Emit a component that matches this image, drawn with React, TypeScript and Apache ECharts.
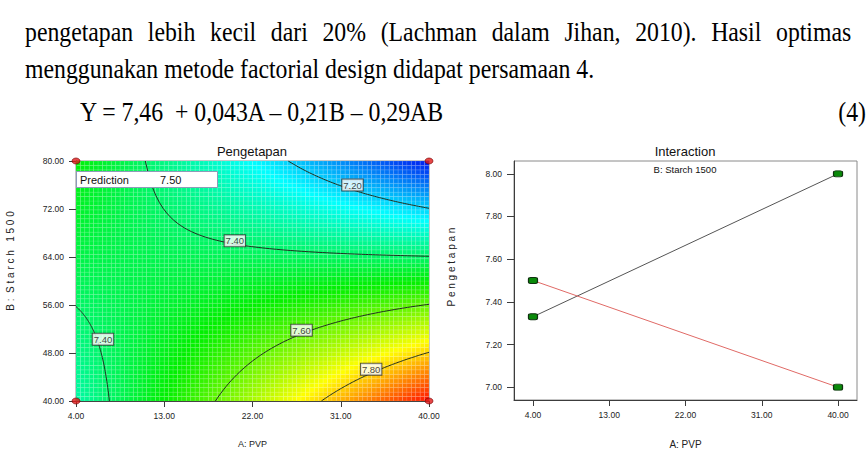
import React, { useEffect, useRef } from 'react';
import * as echarts from 'echarts';

// ---------- document text ----------
const paraLine1Words = [
  'pengetapan', 'lebih', 'kecil', 'dari', '20%', '(Lachman', 'dalam', 'Jihan,', '2010).', 'Hasil', 'optimas',
];
const paraLine2 = 'menggunakan metode factorial design didapat persamaan 4.';
const equationText = 'Y = 7,46  + 0,043A – 0,21B – 0,29AB';
const equationNo = '(4)';

// ---------- chart data ----------
const pvpTicks = [4, 13, 22, 31, 40];
const starchTicks = [40, 48, 56, 64, 72, 80];
const responseTicks = [7.0, 7.2, 7.4, 7.6, 7.8, 8.0];
const pvpRange = [4, 40];
const starchRange = [40, 80];
// coded-unit model from the equation: Y = 7.46 + 0.043A - 0.21B - 0.29AB
const modelCoef = [7.46, 0.043, -0.21, -0.29];
const responseRange = [7.003, 8.003];
const contourLevels = [7.2, 7.4, 7.6, 7.8];
const contourLabelNames = ['7.20', '7.40', '7.40', '7.60', '7.80'];
const contourLabelPos = [[32.2, 76.0], [20.2, 66.7], [6.75, 50.3], [27.0, 51.8], [34.1, 45.3]];
const designPoints = [[4, 40], [4, 80], [40, 40], [40, 80]];
const predictionText = ['Prediction', '7.50'];
// interaction plot (B: Starch 1500)
const interactionBLow = [[4, 7.33], [40, 8.0]];
const interactionBHigh = [[4, 7.5], [40, 7.0]];

const SANS = '"Liberation Sans", Arial, sans-serif';
const SERIF = '"Liberation Serif", "Times New Roman", serif';
const DOC_FONT_SIZE = 27;
const DOC_SCALE_X = 0.88;

function toCodedA(A: number) { return (A - (pvpRange[0] + pvpRange[1]) / 2) / ((pvpRange[1] - pvpRange[0]) / 2); }
function toCodedB(B: number) { return (B - (starchRange[0] + starchRange[1]) / 2) / ((starchRange[1] - starchRange[0]) / 2); }
function predict(A: number, B: number) {
  const a = toCodedA(A), b = toCodedB(B);
  const [c0, c1, c2, c3] = modelCoef;
  return c0 + c1 * a + c2 * b + c3 * a * b;
}

function buildSurface(nA: number, nB: number) {
  const dA = (pvpRange[1] - pvpRange[0]) / nA;
  const dB = (starchRange[1] - starchRange[0]) / nB;
  const data: number[][] = [];
  for (let i = 0; i < nA; i++) {
    for (let j = 0; j < nB; j++) {
      const A = pvpRange[0] + dA * (i + 0.5);
      const B = starchRange[0] + dB * (j + 0.5);
      data.push([A, B, predict(A, B)]);
    }
  }
  return { data, dA, dB };
}

function contourBranches(L: number) {
  const [c0, c1, c2, c3] = modelCoef;
  const bOf = (a: number) => (L - c0 - c1 * a) / (c2 + c3 * a);
  const aOf = (b: number) => (L - c0 - c2 * b) / (c1 + c3 * b);
  const sing = -c2 / c3;
  const cands = [-1, 1, aOf(1), aOf(-1), sing]
    .filter((v) => isFinite(v) && v >= -1 && v <= 1)
    .sort((x, y) => x - y);
  const branches: number[][][] = [];
  for (let i = 0; i < cands.length - 1; i++) {
    const lo = cands[i], hi = cands[i + 1];
    if (hi - lo < 1e-9) continue;
    const bm = bOf((lo + hi) / 2);
    if (!(bm >= -1 && bm <= 1)) continue;
    const pts: number[][] = [];
    const N = 80;
    for (let k = 0; k <= N; k++) {
      const a = lo + ((hi - lo) * k) / N;
      let b = bOf(a);
      b = Math.max(-1, Math.min(1, b));
      pts.push([22 + 18 * a, 60 + 20 * b]);
    }
    branches.push(pts);
  }
  return branches;
}

function measureWords(words: string[]) {
  const ctx = document.createElement('canvas').getContext('2d');
  if (!ctx) return words.map((w) => w.length * 11);
  ctx.font = `${DOC_FONT_SIZE}px "Liberation Serif"`;
  return words.map((w) => ctx.measureText(w).width * DOC_SCALE_X);
}

function buildOption() {
  const { data: surface, dA, dB } = buildSurface(80, 54);
  const contourSeries: any[] = [];
  contourLevels.forEach((L) => {
    contourBranches(L).forEach((pts) => {
      contourSeries.push({
        type: 'line', xAxisIndex: 0, yAxisIndex: 0, data: pts, showSymbol: false, silent: true,
        lineStyle: { color: '#1f2f1f', width: 1 }, z: 5,
      });
    });
  });

  const tickLabel = { fontSize: 8.5, fontFamily: SANS, color: '#222' };
  const docStyle = { fontSize: DOC_FONT_SIZE, fontFamily: SERIF, fill: '#000', verticalAlign: 'middle' };
  const graphics: any[] = [];

  // justified first line: words spread evenly from the left margin to the last word's start
  const lineStart = 25, lastWordStart = 776;
  const widths = measureWords(paraLine1Words);
  const inner = widths.slice(0, -1).reduce((s, w) => s + w, 0);
  const gap = (lastWordStart - lineStart - inner) / (paraLine1Words.length - 1);
  let cx = lineStart;
  paraLine1Words.forEach((w, i) => {
    graphics.push({ type: 'text', x: cx, y: 32, scaleX: DOC_SCALE_X, z: 100, style: { text: w, ...docStyle } });
    cx += widths[i] + gap;
  });
  graphics.push({ type: 'text', x: 25, y: 69, scaleX: DOC_SCALE_X, z: 100, style: { text: paraLine2, ...docStyle } });
  graphics.push({ type: 'text', x: 80, y: 112, scaleX: DOC_SCALE_X, z: 100, style: { text: equationText, ...docStyle } });
  graphics.push({ type: 'text', x: 866, y: 112, scaleX: DOC_SCALE_X, z: 100,
    style: { text: equationNo, ...docStyle, align: 'right' } });

  // chart titles
  graphics.push({ type: 'text', x: 252, y: 151, z: 100,
    style: { text: 'Pengetapan', fontSize: 13, fontFamily: SANS, fill: '#111', align: 'center', verticalAlign: 'middle' } });
  graphics.push({ type: 'text', x: 685, y: 151, z: 100,
    style: { text: 'Interaction', fontSize: 13, fontFamily: SANS, fill: '#111', align: 'center', verticalAlign: 'middle' } });
  graphics.push({ type: 'text', x: 685, y: 169, z: 100,
    style: { text: 'B: Starch 1500', fontSize: 9.5, fontFamily: SANS, fill: '#111', align: 'center', verticalAlign: 'middle' } });
  // y axis names
  graphics.push({ type: 'text', x: 10, y: 261, rotation: Math.PI / 2, z: 100,
    style: { text: 'B :  S t a r c h   1 5 0 0', fontSize: 10, fontFamily: SANS, fill: '#222', align: 'center', verticalAlign: 'middle' } });
  graphics.push({ type: 'text', x: 451, y: 267, rotation: Math.PI / 2, z: 100,
    style: { text: 'P e n g e t a p a n', fontSize: 10, fontFamily: SANS, fill: '#222', align: 'center', verticalAlign: 'middle' } });
  // prediction box
  graphics.push({ type: 'rect', z: 100, shape: { x: 76.5, y: 171.5, width: 141, height: 16 },
    style: { fill: '#fff', stroke: '#8d9bb8', lineWidth: 1 } });
  graphics.push({ type: 'text', x: 80, y: 179.5, z: 101,
    style: { text: predictionText[0], fontSize: 11, fontFamily: SANS, fill: '#111', verticalAlign: 'middle' } });
  graphics.push({ type: 'text', x: 160, y: 179.5, z: 101,
    style: { text: predictionText[1], fontSize: 11, fontFamily: SANS, fill: '#111', verticalAlign: 'middle' } });

  return {
    animation: false,
    backgroundColor: '#fff',
    grid: [
      { left: 76, top: 161, width: 353, height: 240, show: true, borderColor: '#8a8a8a', borderWidth: 1, backgroundColor: 'transparent' },
      { left: 514, top: 161, width: 343, height: 239, show: true, borderColor: '#8a8a8a', borderWidth: 1, backgroundColor: 'transparent' },
    ],
    visualMap: {
      type: 'continuous', show: false, seriesIndex: 0, dimension: 2,
      min: responseRange[0], max: responseRange[1],
      inRange: { color: ['#0018f0', '#00ffff', '#00f000', '#ffff00', '#ff1000'] },
    },
    xAxis: [
      {
        type: 'value', gridIndex: 0, min: pvpRange[0], max: pvpRange[1],
        name: 'A: PVP', nameLocation: 'middle', nameGap: 38,
        nameTextStyle: { fontSize: 9, fontFamily: SANS, color: '#222' },
        axisLine: { show: true, lineStyle: { color: '#3c3c3c' } },
        axisTick: { show: true, length: 6, customValues: pvpTicks, lineStyle: { color: '#3c3c3c' } },
        axisLabel: { ...tickLabel, margin: 10, customValues: pvpTicks, formatter: (v: number) => v.toFixed(2) },
        splitLine: { show: false },
      },
      {
        type: 'value', gridIndex: 1, min: 1.76, max: 42.24,
        name: 'A: PVP', nameLocation: 'middle', nameGap: 39,
        nameTextStyle: { fontSize: 10, fontFamily: SANS, color: '#222' },
        axisLine: { show: true, lineStyle: { color: '#3c3c3c' } },
        axisTick: { show: true, length: 6, customValues: pvpTicks, lineStyle: { color: '#3c3c3c' } },
        axisLabel: { ...tickLabel, margin: 10, customValues: pvpTicks, formatter: (v: number) => v.toFixed(2) },
        splitLine: { show: false },
      },
    ],
    yAxis: [
      {
        type: 'value', gridIndex: 0, min: starchRange[0], max: starchRange[1], interval: 8,
        axisLine: { show: true, lineStyle: { color: '#3c3c3c' } },
        axisTick: { show: true, length: 7, customValues: starchTicks, lineStyle: { color: '#3c3c3c' } },
        axisLabel: { ...tickLabel, margin: 12, customValues: starchTicks, formatter: (v: number) => v.toFixed(2) },
        splitLine: { show: false },
      },
      {
        type: 'value', gridIndex: 1, min: 6.94, max: 8.06,
        axisLine: { show: true, lineStyle: { color: '#3c3c3c' } },
        axisTick: { show: true, length: 7, customValues: responseTicks, lineStyle: { color: '#3c3c3c' } },
        axisLabel: { ...tickLabel, margin: 12, customValues: responseTicks, formatter: (v: number) => v.toFixed(2) },
        splitLine: { show: false },
      },
    ],
    series: [
      {
        type: 'custom', xAxisIndex: 0, yAxisIndex: 0, data: surface, silent: true, clip: true,
        encode: { x: 0, y: 1 }, z: 1,
        renderItem: (params: any, api: any) => {
          const A = api.value(0), B = api.value(1);
          const p0 = api.coord([A - dA / 2, B + dB / 2]);
          const p1 = api.coord([A + dA / 2, B - dB / 2]);
          return {
            type: 'rect',
            shape: { x: p0[0], y: p0[1], width: p1[0] - p0[0], height: p1[1] - p0[1] },
            style: { fill: api.visual('color'), stroke: 'rgba(255,255,255,0.16)', lineWidth: 0.6 },
          };
        },
      },
      ...contourSeries,
      {
        type: 'scatter', xAxisIndex: 0, yAxisIndex: 0, symbolSize: 0, silent: true, z: 20,
        data: contourLabelPos.map((p, i) => ({ name: contourLabelNames[i], value: p })),
        label: {
          show: true, position: 'inside', formatter: '{b}', fontSize: 9.5, fontFamily: SANS, color: '#111',
          backgroundColor: '#fff', borderColor: '#333', borderWidth: 1, padding: [1, 1, 0, 1],
        },
      },
      {
        type: 'scatter', xAxisIndex: 0, yAxisIndex: 0, data: designPoints, clip: false, silent: true, z: 30,
        symbol: 'circle', symbolSize: [8, 6],
        itemStyle: { color: '#e01818', borderColor: '#7a0000', borderWidth: 0.8 },
      },
      {
        type: 'line', xAxisIndex: 1, yAxisIndex: 1, data: interactionBLow, z: 5,
        lineStyle: { color: '#555', width: 1 }, symbol: 'roundRect', symbolSize: [9, 6],
        itemStyle: { color: '#0a8a0a', borderColor: '#103010', borderWidth: 1 },
      },
      {
        type: 'line', xAxisIndex: 1, yAxisIndex: 1, data: interactionBHigh, z: 5,
        lineStyle: { color: '#e06a66', width: 1 }, symbol: 'roundRect', symbolSize: [9, 6],
        itemStyle: { color: '#0a8a0a', borderColor: '#103010', borderWidth: 1 },
      },
    ],
    graphic: graphics,
  };
}

export default function App() {
  const ref = useRef<HTMLDivElement>(null);
  useEffect(() => {
    if (!ref.current) return;
    const chart = echarts.init(ref.current, null, { renderer: 'svg' });
    chart.setOption(buildOption() as any);
    return () => chart.dispose();
  }, []);
  return (
    <div
      ref={ref}
      style={{ position: 'fixed', left: 0, top: 0, width: 868, height: 454, background: '#fff' }}
    />
  );
}
